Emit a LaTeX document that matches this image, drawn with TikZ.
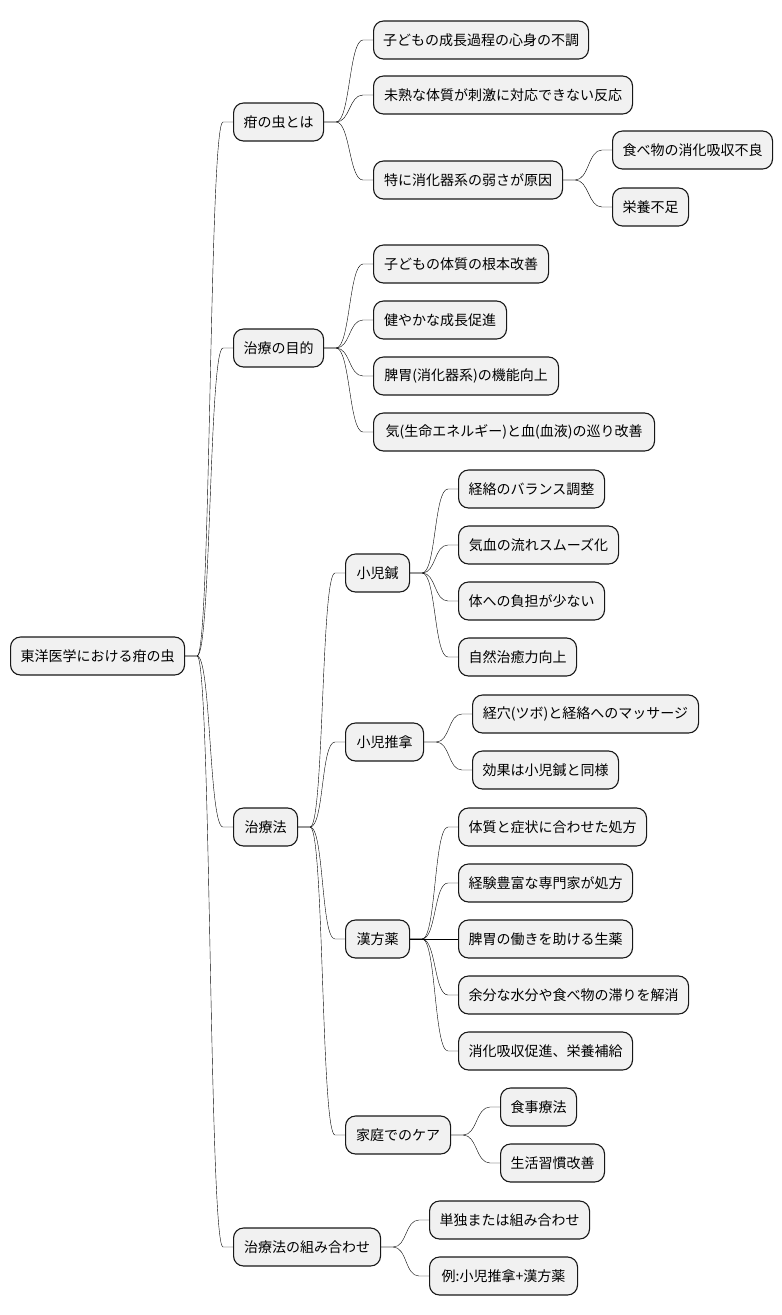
\documentclass[tikz,border=0pt]{standalone}
\usepackage{fontspec}
\setmainfont{Noto Sans CJK JP}
\definecolor{bd}{HTML}{181818}
\definecolor{bg}{HTML}{F1F1F1}
\tikzset{
  box/.style={draw=bd, fill=bg, rounded corners=10pt, line width=1.1pt,
    minimum height=38pt, inner xsep=0pt, anchor=west, minimum width=#1,
    font=\fontsize{14pt}{16pt}\selectfont, text=black},
  mm/.style={draw=bd, line width=0.8pt, to path={-- ++(12,0) .. controls +(14,0) and ([xshift=-24pt]\tikztotarget) .. ([xshift=-10pt]\tikztotarget) -- (\tikztotarget)}}
}
\begin{document}
\begin{tikzpicture}[x=1pt,y=-1pt]
\useasboundingbox (0,0) rectangle (782,1315);
% nodes
\node[box=174] (r) at (10,656) {東洋医学における疳の虫};
\node[box=90] (a) at (233,122) {疳の虫とは};
\node[box=90] (b) at (233,348) {治療の目的};
\node[box=64] (c) at (233,827) {治療法};
\node[box=147] (d) at (233,1247) {治療法の組み合わせ};
\node[box=215] (a1) at (373,40) {子どもの成長過程の心身の不調};
\node[box=259] (a2) at (373,95) {未熟な体質が刺激に対応できない反応};
\node[box=189] (a3) at (373,180) {特に消化器系の弱さが原因};
\node[box=160] (a31) at (612,150) {食べ物の消化吸収不良};
\node[box=76] (a32) at (612,207) {栄養不足};
\node[box=175] (b1) at (373,264) {子どもの体質の根本改善};
\node[box=133] (b2) at (373,320) {健やかな成長促進};
\node[box=185] (b3) at (373,376) {脾胃(消化器系)の機能向上};
\node[box=281] (b4) at (373,432) {気(生命エネルギー)と血(血液)の巡り改善};
\node[box=64] (c1) at (345,573) {小児鍼};
\node[box=146] (c11) at (458,489) {経絡のバランス調整};
\node[box=160] (c12) at (458,545) {気血の流れスムーズ化};
\node[box=146] (c13) at (458,601) {体への負担が少ない};
\node[box=118] (c14) at (458,657) {自然治癒力向上};
\node[box=78] (c2) at (345,742) {小児推拿};
\node[box=226] (c21) at (472,714) {経穴(ツボ)と経絡へのマッサージ};
\node[box=146] (c22) at (472,770) {効果は小児鍼と同様};
\node[box=64] (c3) at (345,939) {漢方薬};
\node[box=188] (c31) at (458,827) {体質と症状に合わせた処方};
\node[box=174] (c32) at (458,883) {経験豊富な専門家が処方};
\node[box=174] (c33) at (458,939) {脾胃の働きを助ける生薬};
\node[box=230] (c34) at (458,995) {余分な水分や食べ物の滞りを解消};
\node[box=174] (c35) at (458,1051) {消化吸収促進、栄養補給};
\node[box=105] (c4) at (345,1135) {家庭でのケア};
\node[box=76] (c41) at (500,1107) {食事療法};
\node[box=104] (c42) at (500,1163) {生活習慣改善};
\node[box=160] (d1) at (429,1220) {単独または組み合わせ};
\node[box=148] (d2) at (429,1276) {例:小児推拿+漢方薬};
% connectors
\foreach \p/\c in {r/a,r/b,r/c,r/d,a/a1,a/a2,a/a3,a3/a31,a3/a32,b/b1,b/b2,b/b3,b/b4,
  c/c1,c/c2,c/c3,c/c4,c1/c11,c1/c12,c1/c13,c1/c14,c2/c21,c2/c22,
  c3/c31,c3/c32,c3/c33,c3/c34,c3/c35,c4/c41,c4/c42,d/d1,d/d2}
  \draw (\p.east) to[mm] (\c.west);
\end{tikzpicture}
\end{document}
